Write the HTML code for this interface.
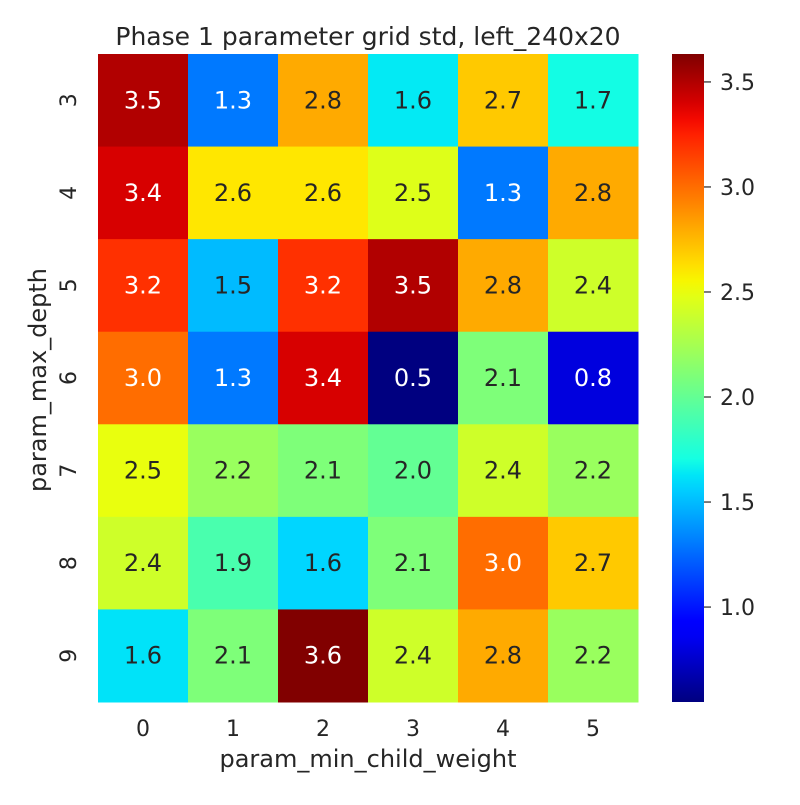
<!DOCTYPE html>
<html><head><meta charset="utf-8"><style>
body{margin:0;background:#fff;}
svg text{font-family:"DejaVu Sans","Liberation Sans",sans-serif;fill:#262626;}
</style></head><body>
<svg id="chart" width="800" height="800" viewBox="0 0 800 800">
<rect width="800" height="800" fill="#fff"/>
<text x="368" y="45" font-size="25" text-anchor="middle">Phase 1 parameter grid std, left_240x20</text>
<g id="cells"></g>
<g id="xticks"></g>
<g id="yticks"></g>
<text x="368" y="767" font-size="24" text-anchor="middle">param_min_child_weight</text>
<text transform="translate(46,380) rotate(-90)" font-size="24" text-anchor="middle">param_max_depth</text>
<defs><linearGradient id="cbgrad" x1="0" y1="1" x2="0" y2="0"></linearGradient></defs>
<rect x="672" y="54" width="32" height="648" fill="url(#cbgrad)"/>
<g id="cbticks"></g>
</svg>
<script>
const xCats = [0,1,2,3,4,5];
const yCats = [3,4,5,6,7,8,9];
const values = [
 [3.5,1.3,2.8,1.64,2.7,1.7],
 [3.4,2.6,2.6,2.46,1.3,2.8],
 [3.2,1.5,3.2,3.5,2.8,2.4],
 [3.0,1.3,3.4,0.54,2.1,0.8],
 [2.5,2.2,2.1,2.0,2.4,2.2],
 [2.4,1.9,1.58,2.1,3.0,2.7],
 [1.62,2.1,3.63,2.4,2.8,2.2]
];
const cbTicks = [1.0,1.5,2.0,2.5,3.0,3.5];
const vmin = 0.548, vmax = 3.633;

const NS="http://www.w3.org/2000/svg";
const L=98,R=638,T=54,B=702;
const cw=(R-L)/xCats.length, ch=(B-T)/yCats.length;
const seg={r:[[0,0],[0.35,0],[0.66,1],[0.89,1],[1,0.5]],
 g:[[0,0],[0.125,0],[0.375,1],[0.64,1],[0.91,0],[1,0]],
 b:[[0,0.5],[0.11,1],[0.34,1],[0.65,0],[1,0]]};
function interp(s,x){for(let i=1;i<s.length;i++){if(x<=s[i][0]){const a=s[i-1],b=s[i];return a[1]+(b[1]-a[1])*(x-a[0])/(b[0]-a[0]);}}return s[s.length-1][1];}
function jet(v){let x=(v-vmin)/(vmax-vmin);x=Math.max(0,Math.min(1,x));return [interp(seg.r,x),interp(seg.g,x),interp(seg.b,x)];}
function css(c){return `rgb(${c.map(q=>Math.round(q*255)).join(',')})`;}
function lum(c){const f=q=>q<=0.03928?q/12.92:Math.pow((q+0.055)/1.055,2.4);return 0.2126*f(c[0])+0.7152*f(c[1])+0.0722*f(c[2]);}
function el(t,a,p){const e=document.createElementNS(NS,t);for(const k in a)e.setAttribute(k,a[k]);p.appendChild(e);return e;}
const xs=i=>L+i*cw, ys=j=>T+j*ch;
const yv=v=>B-(v-vmin)/(vmax-vmin)*(B-T);
const cells=document.getElementById('cells');
values.forEach((row,j)=>row.forEach((v,i)=>{
 const c=jet(v);
 const r=el('rect',{x:xs(i),y:ys(j),width:cw+0.5,height:ch+0.5,fill:css(c)},cells);
 
 
 const t=el('text',{x:xs(i)+cw/2,y:ys(j)+ch/2+8,'font-size':24,'text-anchor':'middle'},cells);
 t.textContent=v.toFixed(1);
 t.style.fill=lum(c)<0.408?'#fff':'#262626';
 
 
}));
const xt=document.getElementById('xticks');
xCats.forEach((c,i)=>{const t=el('text',{x:xs(i)+cw/2,y:736,'font-size':22,'text-anchor':'middle'},xt);t.textContent=c;
 
 });
const yt=document.getElementById('yticks');
yCats.forEach((c,j)=>{const cy=ys(j)+ch/2;const t=el('text',{transform:`translate(76,${cy}) rotate(-90)`,'font-size':22,'text-anchor':'middle'},yt);t.textContent=c;
 
 });
const g=document.getElementById('cbgrad');
for(let k=0;k<=40;k++){const v=vmin+(vmax-vmin)*k/40;el('stop',{offset:(k/40),'stop-color':css(jet(v))},g);}
const cbt=document.getElementById('cbticks');
cbTicks.forEach(v=>{const y=yv(v);el('line',{x1:704,x2:711,y1:y,y2:y,stroke:'#262626','stroke-width':1.2},cbt);
 const t=el('text',{x:720,y:y+8,'font-size':22},cbt);t.textContent=v.toFixed(1);
 
 });
</script>
</body></html>
